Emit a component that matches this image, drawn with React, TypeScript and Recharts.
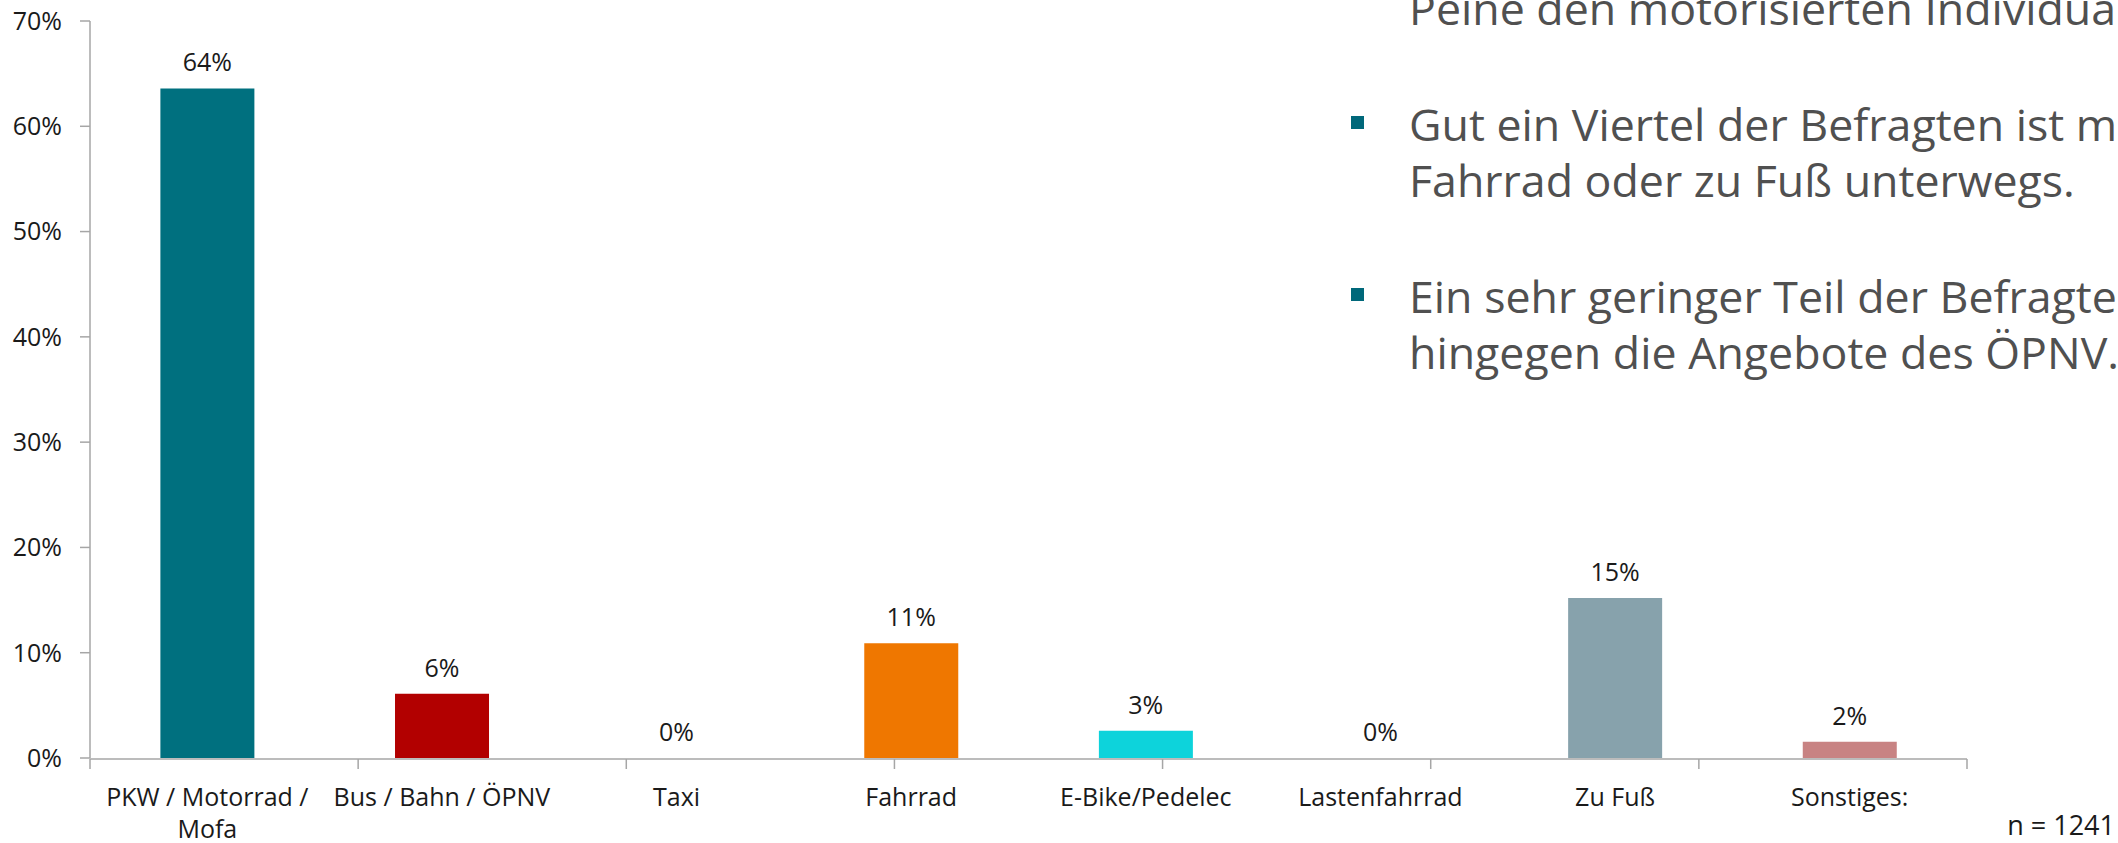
import React from "react";
import { ComposedChart, Bar, Line, XAxis, YAxis, Cell, LabelList } from "recharts";

const categories = [
  "PKW / Motorrad / Mofa",
  "Bus / Bahn / ÖPNV",
  "Taxi",
  "Fahrrad",
  "E-Bike/Pedelec",
  "Lastenfahrrad",
  "Zu Fuß",
  "Sonstiges:",
];
const categoryLines: string[][] = [
  ["PKW / Motorrad /", "Mofa"],
  ["Bus / Bahn / ÖPNV"],
  ["Taxi"],
  ["Fahrrad"],
  ["E-Bike/Pedelec"],
  ["Lastenfahrrad"],
  ["Zu Fuß"],
  ["Sonstiges:"],
];
const shares = [63.6, 6.1, 0, 10.9, 2.6, 0, 15.2, 1.55];
const barColors = ["#00707F", "#B20000", "#B20000", "#EF7700", "#0DD3DB", "#C88383", "#87A2AC", "#C88383"];
const yTicks = [0, 10, 20, 30, 40, 50, 60, 70];
const boundaryTicks = [0, 1, 2, 3, 4, 5, 6, 7, 8];

const bulletParagraphs: string[][] = [
  ["Gut ein Viertel der Befragten ist mit dem", "Fahrrad oder zu Fuß unterwegs."],
  ["Ein sehr geringer Teil der Befragten nutzt", "hingegen die Angebote des ÖPNV."],
];
const topLine = "Peine den motorisierten Individualverkehr.";
const sampleNote = "n = 1241";

const data = categories.map((c, i) => ({ name: c, value: shares[i] }));

const FONT = "'Segoe UI', 'Open Sans', sans-serif";

const CatTick = (props: any) => {
  const { x, y, index } = props;
  const lines = categoryLines[index] || [];
  return (
    <g>
      {lines.map((l, i) => (
        <text key={i} x={x} y={y + 48 + i * 32} textAnchor="middle" fontSize={25} fontFamily={FONT} fill="#1a1a1a">
          {l}
        </text>
      ))}
    </g>
  );
};

const EmptyTick = () => <g />;

export default function App() {
  return (
    <div style={{ position: "absolute", left: 0, top: 0, width: 2118, height: 843, background: "#fff" }}>
      <ComposedChart
        width={2118}
        height={843}
        data={data}
        margin={{ top: 21, right: 151, bottom: 83, left: 0 }}
        barCategoryGap="30%"
      >
        <XAxis
          xAxisId="grid"
          type="number"
          domain={[0, 8]}
          ticks={boundaryTicks}
          interval={0}
          tick={<EmptyTick />}
          tickSize={10}
          height={1}
          axisLine={{ stroke: "#A6A6A6", strokeWidth: 1.5 }}
          tickLine={{ stroke: "#A6A6A6", strokeWidth: 1.5 }}
          allowDataOverflow
        />
        <XAxis
          xAxisId="cat"
          dataKey="name"
          height={1}
          axisLine={false}
          tickLine={false}
          tickSize={0}
          tickMargin={0}
          interval={0}
          tick={<CatTick />}
        />
        <YAxis
          width={90}
          domain={[0, 70]}
          ticks={yTicks}
          interval={0}
          tickFormatter={(v: number) => `${v}%`}
          tickSize={10}
          tickMargin={18}
          axisLine={{ stroke: "#A6A6A6", strokeWidth: 1.5 }}
          tickLine={{ stroke: "#A6A6A6", strokeWidth: 1.5 }}
          tick={{ fontSize: 25, fontFamily: FONT, fill: "#1a1a1a" }}
        />
        <Bar dataKey="value" xAxisId="cat" isAnimationActive={false}>
          {data.map((d, i) => (
            <Cell key={i} fill={barColors[i]} />
          ))}
        </Bar>
        <Line
          dataKey="value"
          xAxisId="cat"
          stroke="none"
          dot={false}
          activeDot={false}
          legendType="none"
          isAnimationActive={false}
        >
          <LabelList
            dataKey="value"
            position="top"
            offset={17}
            formatter={(v: any) => `${Math.round(Number(v))}%`}
            style={{ fontSize: 25, fontFamily: FONT, fill: "#1a1a1a" }}
          />
        </Line>
      </ComposedChart>
      <svg width={2118} height={843} style={{ position: "absolute", left: 0, top: 0, pointerEvents: "none" }}>
        <text x={1409} y={25} fontSize={44.7} fontFamily={FONT} fill="#505050">
          {topLine}
        </text>
        {bulletParagraphs.map((p, pi) => (
          <g key={pi}>
            <rect x={1351} y={116 + pi * 172} width={13} height={13} fill="#00687A" />
            {p.map((l, li) => (
              <text key={li} x={1409} y={141 + pi * 172 + li * 56} fontSize={44.7} fontFamily={FONT} fill="#505050">
                {l}
              </text>
            ))}
          </g>
        ))}
        <text x={2115} y={835} textAnchor="end" fontSize={27} fontFamily={FONT} fill="#1a1a1a">
          {sampleNote}
        </text>
      </svg>
    </div>
  );
}
